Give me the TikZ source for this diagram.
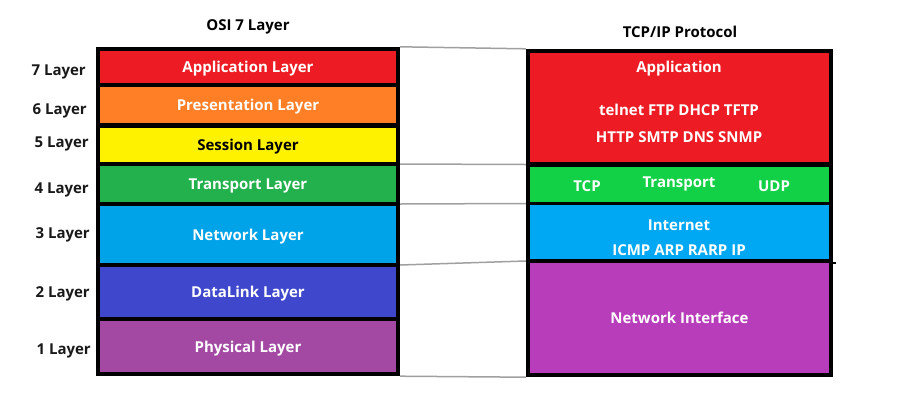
\documentclass[tikz,border=0pt]{standalone}
\usepackage{fontspec}
\setmainfont{Open Sans}
\usetikzlibrary{positioning, calc}
\definecolor{appred}{RGB}{237, 28, 36}
\definecolor{presorange}{RGB}{255, 127, 39}
\definecolor{sessyellow}{RGB}{255, 242, 0}
\definecolor{transgreen}{RGB}{34, 177, 76}
\definecolor{netblue}{RGB}{0, 162, 232}
\definecolor{linkindigo}{RGB}{63, 72, 204}
\definecolor{physpurple}{RGB}{163, 73, 164}
\definecolor{tcpgreen}{RGB}{18, 209, 70}
\definecolor{inetblue}{RGB}{0, 168, 243}
\definecolor{nifpurple}{RGB}{184, 61, 186}
\definecolor{linkgray}{RGB}{160, 160, 160}

\tikzset{
  boxfont/.style={font=\bfseries\fontsize{15}{17}\selectfont, text height=11pt, text depth=0pt},
  osibox/.style={boxfont, minimum width=296pt, inner sep=0pt, text=white},
  tcpbox/.style={boxfont, minimum width=299pt, inner sep=0pt, text=white},
  boxtext/.style={boxfont, inner sep=0pt, text=white},
  layerlabel/.style={boxfont, anchor=east, inner sep=0pt, text=black!90},
  frame/.style={fill=black, inner sep=0pt},
  bridge/.style={draw=linkgray, line width=1.5pt}
}

\begin{document}
\begin{tikzpicture}[x=1pt, y=-1pt]
  \useasboundingbox (0,0) rectangle (903,400);

  % OSI stack
  \node[boxfont] (osititle) at (248,25) {OSI 7 Layer};
  \node[frame, minimum width=304pt, minimum height=329pt] (osiframe) at (248,211.5) {};
  \node[osibox, fill=appred, minimum height=32pt] (app) at (248,67) {Application Layer};
  \node[osibox, fill=presorange, minimum height=36pt] (pres) at (248,105) {Presentation Layer};
  \node[osibox, fill=sessyellow, minimum height=34pt, text=black] (sess) at (248,145) {Session Layer};
  \node[osibox, fill=transgreen, minimum height=36pt] (trans) at (248,184) {Transport Layer};
  \node[osibox, fill=netblue, minimum height=57pt] (net) at (248,234.5) {Network Layer};
  \node[osibox, fill=linkindigo, minimum height=50pt] (dlink) at (248,292) {DataLink Layer};
  \node[osibox, fill=physpurple, minimum height=51pt] (phys) at (248,346.5) {Physical Layer};

  % layer numbers
  \node[layerlabel] (l7) at (86,70) {7 Layer};
  \node[layerlabel] (l6) at (87,109) {6 Layer};
  \node[layerlabel] (l5) at (89,142) {5 Layer};
  \node[layerlabel] (l4) at (89,188) {4 Layer};
  \node[layerlabel] (l3) at (90,233) {3 Layer};
  \node[layerlabel] (l2) at (90,292) {2 Layer};
  \node[layerlabel] (l1) at (91,349) {1 Layer};

  % TCP/IP stack
  \node[boxfont] (tcptitle) at (680,32) {TCP/IP Protocol};
  \node[frame, minimum width=307pt, minimum height=328pt] (tcpframe) at (679.5,213) {};
  \node[tcpbox, fill=appred, minimum height=109pt] (tapp) at (679.5,107.5) {};
  \node[tcpbox, fill=tcpgreen, minimum height=35pt] (ttrans) at (679.5,184.5) {};
  \node[tcpbox, fill=inetblue, minimum height=54pt] (tnet) at (679.5,232) {};
  \node[tcpbox, fill=nifpurple, minimum height=110pt] (tnif) at (679.5,318) {Network Interface};

  \node[boxtext] (tappname) at (679,67) {Application};
  \node[boxtext] (tappline1) at (679,110) {telnet FTP DHCP TFTP};
  \node[boxtext] (tappline2) at (679,137) {HTTP SMTP DNS SNMP};
  \node[boxtext] (ttransname) at (679,182) {Transport};
  \node[boxtext] (ttcp) at (587,186) {TCP};
  \node[boxtext] (tudp) at (774,186) {UDP};
  \node[boxtext] (tnetname) at (679,225) {Internet};
  \node[boxtext] (tnetline) at (679,250) {ICMP ARP RARP IP};
  \draw[line width=2pt] (tcpframe.east |- tnif.north) -- ++(3,0);

  % mapping lines
  \coordinate (osi45) at ($(sess.south)!0.5!(trans.north)$);
  \coordinate (osi34) at ($(trans.south)!0.5!(net.north)$);
  \coordinate (osi23) at ($(net.south)!0.5!(dlink.north)$);
  \coordinate (tcpat) at ($(tapp.south)!0.5!(ttrans.north)$);
  \coordinate (tcpti) at ($(ttrans.south)!0.5!(tnet.north)$);
  \coordinate (tcpin) at ($(tnet.south)!0.5!(tnif.north)$);
  \draw[bridge] (osiframe.north east) -- (tcpframe.north west);
  \draw[bridge] (osi45 -| osiframe.east) -- (tcpat -| tcpframe.west);
  \draw[bridge] (osi34 -| osiframe.east) -- (tcpti -| tcpframe.west);
  \draw[bridge] (osi23 -| osiframe.east) -- (tcpin -| tcpframe.west);
  \draw[bridge] (osiframe.south east) -- (tcpframe.south west);
\end{tikzpicture}
\end{document}
